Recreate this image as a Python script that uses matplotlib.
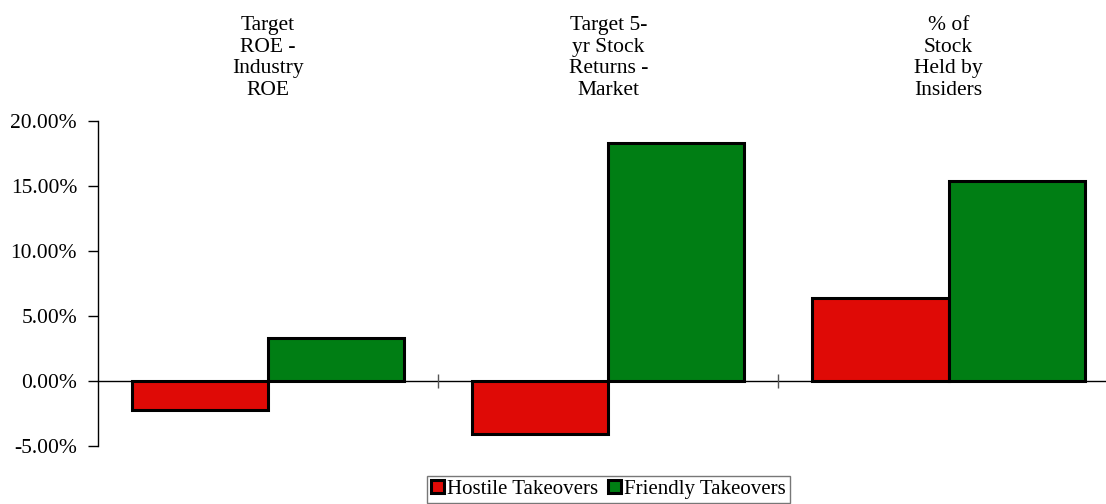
import matplotlib.pyplot as plt
from matplotlib.ticker import FuncFormatter

plt.rcParams['font.family'] = ['Liberation Serif', 'DejaVu Serif']

categories = ['Target\nROE -\nIndustry\nROE',
              'Target 5-\nyr Stock\nReturns -\nMarket',
              '% of\nStock\nHeld by\nInsiders']
hostile = [-0.0223, -0.0408, 0.0638]
friendly = [0.0331, 0.1830, 0.1540]
series_names = ['Hostile Takeovers', 'Friendly Takeovers']

red = '#DF0A06'
green = '#007E14'

fig = plt.figure(figsize=(11.06, 5.04), dpi=100)
ax = fig.add_axes([0.0885, 0.115, 0.923, 0.645])

x = range(len(categories))
w = 0.4
ax.bar([i - w / 2 for i in x], hostile, w, color=red, edgecolor='black',
       linewidth=2.2, label=series_names[0])
ax.bar([i + w / 2 for i in x], friendly, w, color=green, edgecolor='black',
       linewidth=2.2, label=series_names[1])

ax.set_xlim(-0.5, len(categories) - 0.5)
ax.set_ylim(-0.05, 0.20)
ax.set_yticks([-0.05, 0, 0.05, 0.10, 0.15, 0.20])
ax.yaxis.set_major_formatter(FuncFormatter(lambda v, p: '%.2f%%' % (v * 100)))
ax.tick_params(axis='y', direction='out', length=7, width=1, labelsize=15.5, pad=8)

# x axis sits on the zero line, with separators between the groups
for s in ['top', 'right']:
    ax.spines[s].set_visible(False)
ax.spines['bottom'].set_position(('data', 0))
ax.spines['bottom'].set_linewidth(1)
ax.spines['left'].set_linewidth(1)
ax.set_xticks([0.5, 1.5])
ax.set_xticklabels([])
ax.tick_params(axis='x', direction='inout', length=10, width=1, color='#555555')
ax.set_axisbelow(False)

top = ax.secondary_xaxis('top')
top.set_xticks(list(x))
top.set_xticklabels(categories, fontsize=15.5, linespacing=1.2)
top.tick_params(length=0, pad=15)
top.spines['top'].set_visible(False)

fig.legend(loc='center', bbox_to_anchor=(0.55, 0.029), ncol=2, fontsize=15,
           frameon=True, fancybox=False, edgecolor='#555555',
           handlelength=0.6, handleheight=0.6, handletextpad=0.15,
           columnspacing=0.5, borderpad=0.2, borderaxespad=0)

fig.savefig('out.png', dpi=100)
